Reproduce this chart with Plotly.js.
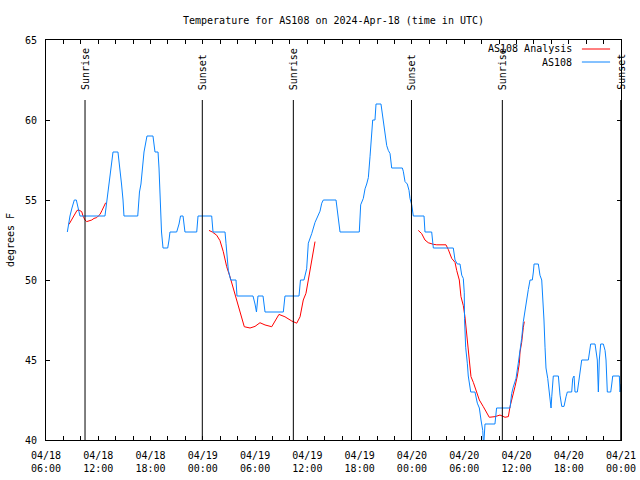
<!DOCTYPE html>
<html>
<head>
<meta charset="utf-8">
<script src="https://cdn.plot.ly/plotly-3.0.1.min.js"></script>
<style>html,body{margin:0;padding:0;background:#fff;}#chart{width:640px;height:480px;}</style>
</head>
<body>
<div id="chart"></div>
<script>
// Hours since 2024-04-18 00:00 UTC
const obsHours = [8.45,8.58,8.75,8.98,9.25,9.48,9.67,9.90,12.77,13.00,13.23,13.46,13.69,14.26,14.49,14.67,14.84,14.95,
  16.53,16.73,16.90,17.08,17.25,17.59,18.28,18.51,18.86,18.97,19.09,19.26,19.43,19.97,20.12,20.23,21.00,21.27,21.44,21.73,21.95,
  23.30,23.45,25.02,25.17,26.55,26.66,26.93,27.20,27.81,27.92,29.76,29.99,30.16,30.33,30.91,31.14,33.24,33.43,35.04,35.21,35.61,
  35.92,36.11,36.50,36.88,37.45,37.65,37.83,39.29,39.52,39.75,41.96,42.12,42.42,42.62,42.81,43.00,43.19,43.39,43.50,43.76,43.88,
  44.45,44.65,44.91,45.11,45.29,45.49,45.68,46.90,47.01,47.21,47.47,47.67,47.78,47.98,48.16,49.39,49.50,50.27,50.46,52.75,52.95,
  53.21,53.52,53.72,53.90,54.01,54.04,54.17,54.36,54.47,54.75,55.24,55.51,55.74,55.93,56.13,56.23,56.39,57.53,57.72,59.26,59.45,
  59.63,59.95,60.21,60.41,60.60,60.79,60.98,61.18,61.36,61.56,61.82,61.94,62.02,62.51,62.70,62.90,63.01,63.16,63.28,63.39,63.59,
  63.77,63.97,64.05,64.23,64.81,65.00,65.20,65.46,65.69,65.84,66.34,66.46,66.61,66.72,66.99,67.10,67.38,67.49,68.25,68.44,68.52,
  69.02,69.13,69.28,69.40,69.51,69.67,69.97,70.17,70.28,70.43,70.82,70.94,71.05,71.81,71.89,72.00];
const obsTemp = [53,53.5,54,54.5,55,55,54.5,54,54,55,56,57,58,58,57,56,55,54,
  54,55.5,56,57,58,59,59,58,58,57,55,53,52,52,52.5,53,53,53.5,54,54,53,
  53,54,54,53,53,52.3,50.6,50,50,49,49,48.5,48,49,49,48,48,49,49,50,50,
  50.7,52.3,52.9,53.6,54.3,54.8,55,55,54,53,53,54.7,55.1,55.7,56,56.4,57.7,59.2,60,60,61,
  61,60.1,59.2,58.4,58.1,57.9,57,57,56.8,56.15,56,55.6,55.1,54.7,54,54,53,53,52,52,51.25,
  51,51,50.3,50.1,49.2,47.6,45.8,44.8,44,43,43,42.3,42,41.25,40.6,39.6,41,41,42,42,42.9,
  43.3,43.85,44.8,45.5,46.35,47.4,48.1,48.96,49.4,50,50,50.5,51,51,50.3,50,49.2,47.5,45.8,44.5,43.85,
  43.1,42,42.7,44,44,42.8,42.1,42.1,42.7,43,43,43.85,44,43,43,43.5,44.5,45,45,45.8,46,
  46,45.5,45,43,45,46,46,45.6,45,43,43,43.5,44,44,43,43.5];

// Analysis (null = gap between segments)
const anaHours = [8.64,8.98,9.33,9.56,9.79,10.10,10.25,10.48,10.67,10.94,11.25,11.51,11.82,12.00,12.20,12.43,12.66,12.85,
  18.0,
  24.71,25.09,25.59,25.97,26.35,26.74,27.12,27.50,27.89,28.27,28.76,29.42,29.99,30.56,31.14,31.91,32.29,32.74,33.43,34.20,34.78,
  35.16,35.53,35.84,36.11,36.50,36.88,
  42.0,
  48.73,49.12,49.50,49.88,50.46,50.85,51.91,52.18,52.57,52.95,53.14,53.44,53.63,53.90,54.09,54.21,54.40,54.59,54.78,55.05,55.36,
  55.74,56.20,56.59,56.88,57.54,58.11,58.69,59.07,59.26,59.57,59.83,60.10,60.33,60.41,60.60,60.79,60.90];
const anaTemp = [53.48,53.8,54.1,54.35,54.37,54.27,54.0,53.75,53.65,53.7,53.75,53.85,53.9,54.0,54.1,54.35,54.6,54.83,
  null,
  53.1,53.0,52.8,52.46,51.77,50.83,50.2,49.48,48.75,48.1,47.08,47.0,47.1,47.33,47.19,47.08,47.4,47.85,47.7,47.44,47.3,
  47.7,48.75,49.17,50,51.25,52.4,
  null,
  53.1,52.9,52.5,52.33,52.23,52.2,52.2,51.9,51.35,51.1,50.6,50,48.96,48.4,47.7,47.08,46.04,45.2,43.96,43.6,43.1,
  42.5,42.08,41.67,41.42,41.46,41.56,41.42,41.46,42.08,42.7,43.33,44,44.8,45.5,46.1,47.04,47.4];

const sunHours = [10.48, 23.94, 34.39, 47.95, 58.38, 71.97];
const sunLabels = ['Sunrise','Sunset','Sunrise','Sunset','Sunrise','Sunset'];

const seriesNames = ['AS108 Analysis', 'AS108'];
const seriesColors = ['#ff0000', '#0a84ff'];

const base = Date.UTC(2024, 3, 18);
function toDate(h) {
  return new Date(base + h * 3600000).toISOString().replace('T', ' ').slice(0, 19);
}

const FONT = {family: 'DejaVu Sans Mono, monospace', size: 10, color: '#000'};

const traces = [
  {x: anaHours.map(toDate), y: anaTemp, type: 'scatter', mode: 'lines', name: seriesNames[0],
   line: {color: seriesColors[0], width: 1}, connectgaps: false, showlegend: false},
  {x: obsHours.map(toDate), y: obsTemp, type: 'scatter', mode: 'lines', name: seriesNames[1],
   line: {color: seriesColors[1], width: 1}, showlegend: false}
];

const shapes = sunHours.map(h => ({type: 'line', xref: 'x', yref: 'paper', x0: toDate(h), x1: toDate(h),
  y0: 0, y1: 0.85, line: {color: '#000', width: 1}}));
const annotations = sunHours.map((h, i) => ({xref: 'x', yref: 'paper', x: toDate(h), y: 0.87,
  text: sunLabels[i], textangle: -90, showarrow: false, xanchor: 'center', yanchor: 'bottom', font: FONT}));

// gnuplot-style legend: text then line sample
const legY = [0.9775, 0.945];
seriesNames.forEach((n, i) => {
  annotations.push({xref: 'paper', yref: 'paper', x: 0.918, y: legY[i], text: n, showarrow: false,
    xanchor: 'right', yanchor: 'middle', font: FONT});
  shapes.push({type: 'line', xref: 'paper', yref: 'paper', x0: 0.932, x1: 0.981, y0: legY[i], y1: legY[i],
    line: {color: seriesColors[i], width: 1}});
});

const layout = {
  width: 640, height: 480,
  margin: {l: 46, r: 19, t: 40, b: 40, pad: 0},
  paper_bgcolor: '#fff', plot_bgcolor: '#fff',
  font: FONT,
  title: {text: 'Temperature for AS108 on 2024-Apr-18 (time in UTC)', font: FONT,
    x: 0.5, xref: 'paper', xanchor: 'center', y: 1 - 20/480, yanchor: 'middle'},
  xaxis: {
    type: 'date', range: [toDate(6), toDate(72)],
    tick0: toDate(6), dtick: 6 * 3600000, tickformat: '%m/%d<br>%H:%M',
    ticks: 'inside', ticklen: 4, tickcolor: '#000', tickwidth: 1,
    minor: {dtick: 2 * 3600000, ticks: 'inside', ticklen: 4, tickcolor: '#000', showgrid: false},
    showline: true, linecolor: '#000', linewidth: 1, mirror: 'ticks',
    showgrid: false, zeroline: false, tickfont: FONT, ticklabelstandoff: 6
  },
  yaxis: {
    range: [40, 65], dtick: 5, tick0: 40,
    ticks: 'inside', ticklen: 4, tickcolor: '#000', tickwidth: 1,
    showline: true, linecolor: '#000', linewidth: 1, mirror: 'ticks',
    showgrid: false, zeroline: false, tickfont: FONT, ticklabelstandoff: 6,
    title: {text: 'degrees F', font: FONT, standoff: 8}
  },
  shapes: shapes,
  annotations: annotations,
  showlegend: false
};

Plotly.newPlot('chart', traces, layout, {staticPlot: true, displayModeBar: false});
</script>
</body>
</html>
